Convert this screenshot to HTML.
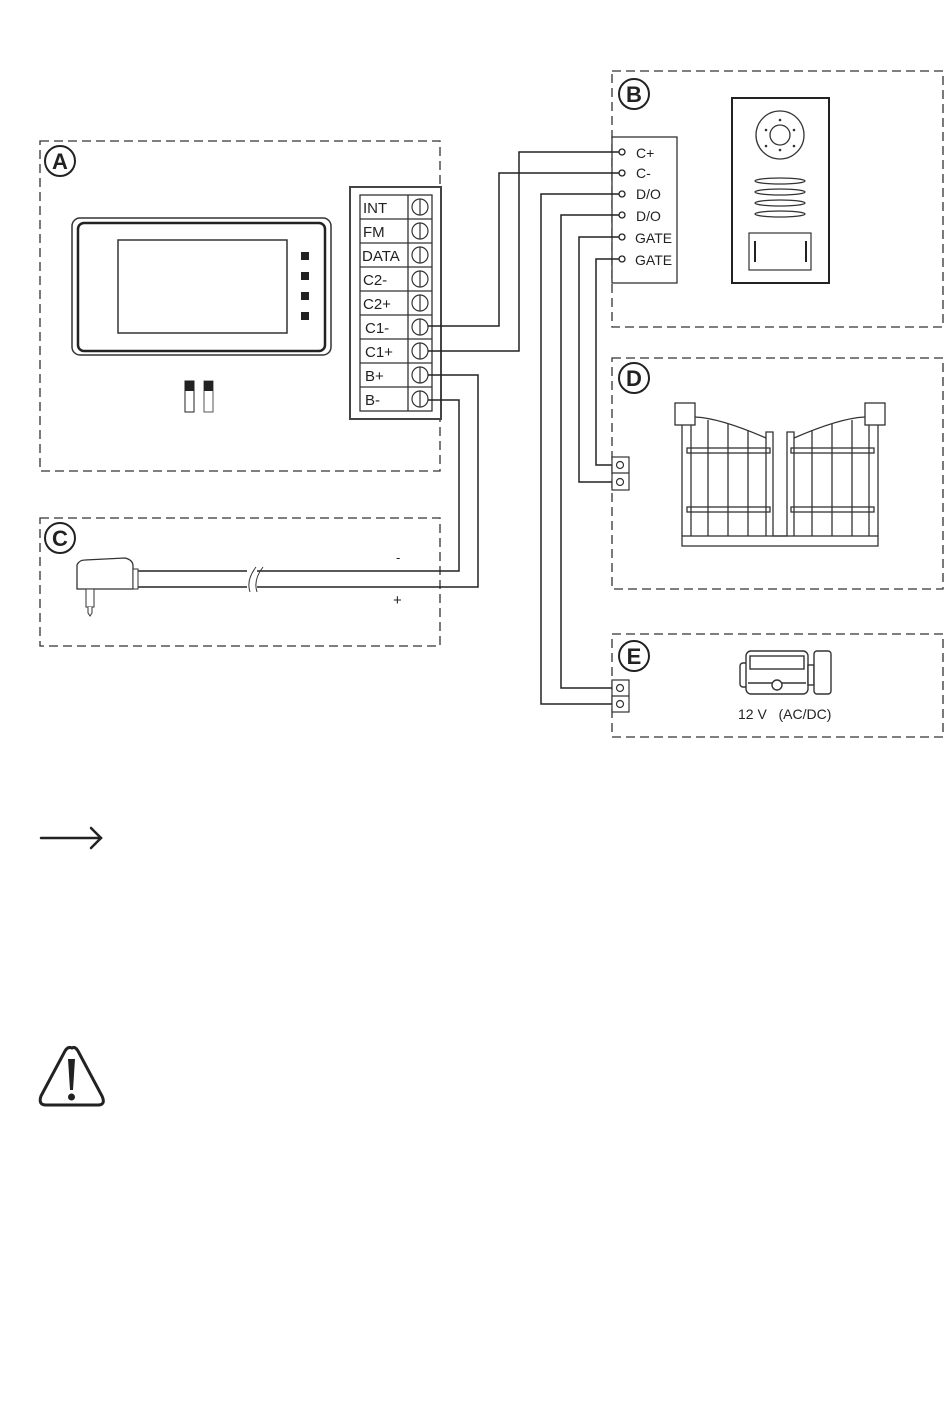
<!DOCTYPE html>
<html><head><meta charset="utf-8"><style>
html,body{margin:0;padding:0;background:#fff}
svg{display:block}
text{font-family:"Liberation Sans",Arial,sans-serif;fill:#222}
</style></head><body>
<svg width="950" height="1425" viewBox="0 0 950 1425" xmlns="http://www.w3.org/2000/svg">
<g fill="none" stroke="#333" stroke-width="1.3" stroke-dasharray="9,5">
<rect x="40" y="141" width="400" height="330"/>
<rect x="612" y="71" width="331" height="256"/>
<rect x="612" y="358" width="331" height="231"/>
<rect x="40" y="518" width="400" height="128"/>
<rect x="612" y="634" width="331" height="103"/>
</g>
<!-- circle labels -->
<g fill="none" stroke="#222" stroke-width="2">
<circle cx="60" cy="161" r="15"/><circle cx="634" cy="94" r="15"/>
<circle cx="634" cy="378" r="15"/><circle cx="60" cy="538" r="15"/>
<circle cx="634" cy="656" r="15"/>
</g>
<g font-size="22" font-weight="bold" text-anchor="middle">
<text x="60" y="169">A</text><text x="634" y="102">B</text>
<text x="634" y="386">D</text><text x="60" y="546">C</text>
<text x="634" y="664">E</text>
</g>
<!-- terminal block A -->
<rect x="350" y="187" width="91" height="232" fill="#fff" stroke="#444" stroke-width="2"/>
<g stroke="#333" stroke-width="1.3" fill="none">
<rect x="360" y="195" width="72" height="216"/>
<line x1="408" y1="195" x2="408" y2="411"/>
<line x1="360" y1="219" x2="432" y2="219"/><line x1="360" y1="243" x2="432" y2="243"/>
<line x1="360" y1="267" x2="432" y2="267"/><line x1="360" y1="291" x2="432" y2="291"/>
<line x1="360" y1="315" x2="432" y2="315"/><line x1="360" y1="339" x2="432" y2="339"/>
<line x1="360" y1="363" x2="432" y2="363"/><line x1="360" y1="387" x2="432" y2="387"/>
</g>
<g stroke="#333" stroke-width="1.2" fill="#fff">
<circle cx="420" cy="207" r="8"/><circle cx="420" cy="231" r="8"/><circle cx="420" cy="255" r="8"/>
<circle cx="420" cy="279" r="8"/><circle cx="420" cy="303" r="8"/><circle cx="420" cy="327" r="8"/>
<circle cx="420" cy="351" r="8"/><circle cx="420" cy="375" r="8"/><circle cx="420" cy="399" r="8"/>
</g>
<g stroke="#333" stroke-width="1.2">
<line x1="420" y1="199" x2="420" y2="215"/><line x1="420" y1="223" x2="420" y2="239"/><line x1="420" y1="247" x2="420" y2="263"/>
<line x1="420" y1="271" x2="420" y2="287"/><line x1="420" y1="295" x2="420" y2="311"/><line x1="420" y1="319" x2="420" y2="335"/>
<line x1="420" y1="343" x2="420" y2="359"/><line x1="420" y1="367" x2="420" y2="383"/><line x1="420" y1="391" x2="420" y2="407"/>
</g>
<g font-size="15">
<text x="363" y="213">INT</text><text x="363" y="237">FM</text><text x="362" y="261">DATA</text>
<text x="363" y="285">C2-</text><text x="363" y="309">C2+</text><text x="365" y="333">C1-</text>
<text x="365" y="357">C1+</text><text x="365" y="381">B+</text><text x="365" y="405">B-</text>
</g>
<!-- monitor -->
<rect x="72" y="218" width="259" height="137" rx="8" fill="none" stroke="#333" stroke-width="1.5"/>
<rect x="78" y="223" width="247" height="128" rx="6" fill="none" stroke="#222" stroke-width="2.5"/>
<rect x="118" y="240" width="169" height="93" fill="none" stroke="#333" stroke-width="1.5"/>
<g fill="#222"><rect x="301" y="252" width="8" height="8"/><rect x="301" y="272" width="8" height="8"/><rect x="301" y="292" width="8" height="8"/><rect x="301" y="312" width="8" height="8"/></g>
<rect x="185" y="381" width="9" height="31" fill="#fff" stroke="#222"/><rect x="185" y="381" width="9" height="10" fill="#222"/>
<rect x="204" y="381" width="9" height="31" fill="#fff" stroke="#555"/><rect x="204" y="381" width="9" height="10" fill="#222"/>
<!-- B terminal -->
<rect x="612" y="137" width="65" height="146" fill="#fff" stroke="#333" stroke-width="1.3"/>
<g font-size="14">
<text x="636" y="158">C+</text><text x="636" y="178">C-</text><text x="636" y="199">D/O</text>
<text x="636" y="221">D/O</text><text x="635" y="243">GATE</text><text x="635" y="265">GATE</text>
</g>
<!-- wires -->
<g fill="none" stroke="#222" stroke-width="1.5">
<polyline points="622,152 519,152 519,351 428,351"/>
<polyline points="622,173 499,173 499,326 428,326"/>
<polyline points="622,194 541,194 541,704 617,704"/>
<polyline points="622,215 561,215 561,688 617,688"/>
<polyline points="622,237 579,237 579,482 617,482"/>
<polyline points="622,259 596,259 596,465 617,465"/>
<polyline points="428,375 478,375 478,587 137,587"/>
<polyline points="428,400 459,400 459,571 137,571"/>
</g>
<g fill="#fff" stroke="#222" stroke-width="1.3">
<circle cx="622" cy="152" r="3"/><circle cx="622" cy="173" r="3"/><circle cx="622" cy="194" r="3"/>
<circle cx="622" cy="215" r="3"/><circle cx="622" cy="237" r="3"/><circle cx="622" cy="259" r="3"/>
</g>
<!-- door station -->
<rect x="732" y="98" width="97" height="185" fill="#fff" stroke="#222" stroke-width="2"/>
<circle cx="780" cy="135" r="24" fill="none" stroke="#333" stroke-width="1.3"/>
<circle cx="780" cy="135" r="10" fill="none" stroke="#333" stroke-width="1.3"/>
<g fill="#333"><circle cx="780" cy="120" r="1.3"/><circle cx="780" cy="150" r="1.3"/><circle cx="766" cy="130" r="1.3"/><circle cx="794" cy="130" r="1.3"/><circle cx="766" cy="146" r="1.3"/><circle cx="794" cy="146" r="1.3"/></g>
<g fill="none" stroke="#333" stroke-width="1.2">
<ellipse cx="780" cy="181" rx="25" ry="3"/><ellipse cx="780" cy="192" rx="25" ry="3"/>
<ellipse cx="780" cy="203" rx="25" ry="3"/><ellipse cx="780" cy="214" rx="25" ry="3"/>
<rect x="749" y="233" width="62" height="37"/>
</g>
<line x1="755" y1="241" x2="755" y2="262" stroke="#222" stroke-width="2"/>
<line x1="806" y1="241" x2="806" y2="262" stroke="#222" stroke-width="2"/>
<!-- D/E terminals -->
<g fill="#fff" stroke="#333" stroke-width="1.2">
<rect x="612" y="457" width="17" height="33"/><line x1="612" y1="473" x2="629" y2="473"/>
<circle cx="620" cy="465" r="3.5"/><circle cx="620" cy="482" r="3.5"/>
<rect x="612" y="680" width="17" height="32"/><line x1="612" y1="696" x2="629" y2="696"/>
<circle cx="620" cy="688" r="3.5"/><circle cx="620" cy="704" r="3.5"/>
</g>
<!-- gate -->
<g fill="none" stroke="#333" stroke-width="1.3">
<rect x="675" y="403" width="20" height="22"/><rect x="865" y="403" width="20" height="22"/>
<rect x="682" y="536" width="196" height="10"/>
<line x1="682" y1="425" x2="682" y2="536"/><line x1="691" y1="425" x2="691" y2="536"/>
<line x1="708" y1="420" x2="708" y2="536"/><line x1="728" y1="424" x2="728" y2="536"/>
<line x1="748" y1="431" x2="748" y2="536"/>
<polyline points="766,536 766,432 773,432 773,536 787,536 787,432 794,432 794,536"/>
<path d="M695,417 Q720,418 766,438"/><path d="M794,438 Q840,418 865,417"/>
<line x1="812" y1="431" x2="812" y2="536"/><line x1="832" y1="424" x2="832" y2="536"/>
<line x1="852" y1="420" x2="852" y2="536"/><line x1="869" y1="425" x2="869" y2="536"/>
<line x1="878" y1="425" x2="878" y2="536"/>
<rect x="687" y="448" width="83" height="5"/><rect x="687" y="507" width="83" height="5"/>
<rect x="791" y="448" width="83" height="5"/><rect x="791" y="507" width="83" height="5"/>
</g>
<!-- lock -->
<g fill="#fff" stroke="#333" stroke-width="1.4">
<rect x="740" y="663" width="8" height="24" rx="3"/>
<rect x="746" y="651" width="62" height="43" rx="5"/>
<rect x="750" y="656" width="54" height="13"/>
<line x1="748" y1="683" x2="806" y2="683"/>
<circle cx="777" cy="685" r="5"/>
<rect x="808" y="665" width="6" height="20"/>
<rect x="814" y="651" width="17" height="43" rx="3"/>
</g>
<text x="738" y="719" font-size="14">12 V &#160; (AC/DC)</text>
<!-- adapter -->
<path d="M77,589 L77,565 Q79,560 85,560 L125,558 Q133,560 133,566 L133,589 Z" fill="#fff" stroke="#333" stroke-width="1.3"/>
<rect x="133" y="569" width="5" height="20" fill="#fff" stroke="#333"/>
<rect x="86" y="589" width="8" height="18" fill="#fff" stroke="#333"/>
<path d="M88,607 L88,613 L90,616 L92,613 L92,607" fill="#fff" stroke="#333"/>
<rect x="247" y="568" width="10" height="22" fill="#fff" stroke="none"/>
<path d="M250,592 Q246,580 256,567 M257,592 Q253,580 263,567" fill="none" stroke="#333"/>
<text x="396" y="562" font-size="13">-</text>
<text x="393" y="605" font-size="15">+</text>
<!-- arrow -->
<g fill="none" stroke="#222" stroke-width="2.5" stroke-linecap="round">
<line x1="41" y1="838" x2="101" y2="838"/><polyline points="91,828 101,838 91,848"/>
</g>
<!-- warning -->
<path d="M72,1048 Q68,1046 65,1051 L41,1096 Q38,1105 46,1105 L98,1105 Q106,1105 102,1096 L78,1051 Q75,1046 72,1048 Z" fill="none" stroke="#222" stroke-width="3"/>
<path d="M68,1059 L75,1059 L73,1090 L70,1090 Z" fill="#222"/>
<circle cx="71.5" cy="1097" r="3.5" fill="#222"/>
</svg>
</body></html>
